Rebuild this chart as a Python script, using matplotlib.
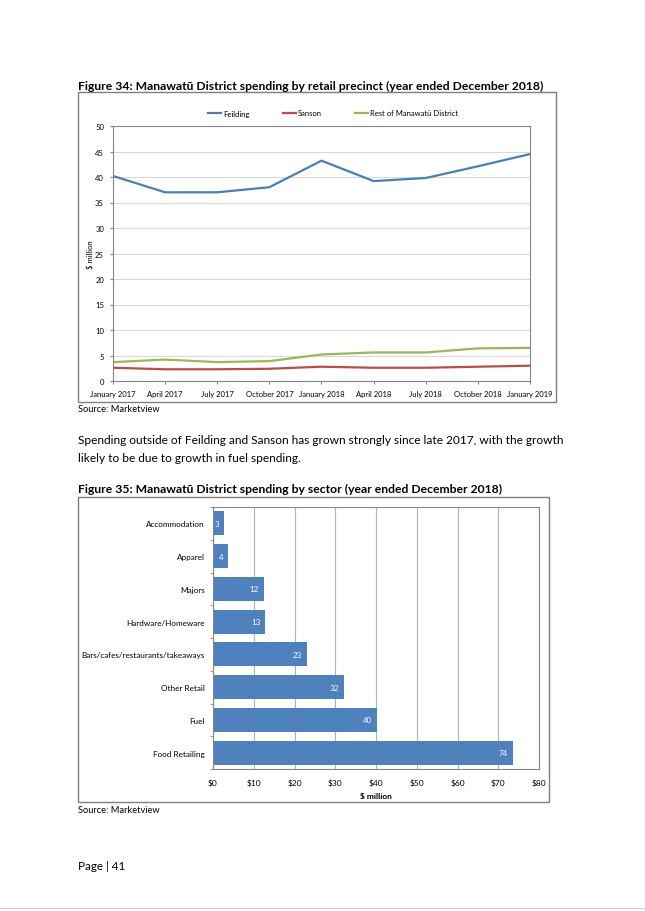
import numpy as np
import matplotlib.pyplot as plt
from matplotlib.patches import Rectangle
from matplotlib.lines import Line2D

plt.rcParams['font.family'] = ['Lato', 'DejaVu Sans']

# Figure 34 data ($ million)
quarters = ["January 2017", "April 2017", "July 2017", "October 2017", "January 2018",
            "April 2018", "July 2018", "October 2018", "January 2019"]
feilding = [40.2, 37.0, 37.0, 38.0, 43.2, 39.2, 39.8, 42.1, 44.5]
sanson = [2.6, 2.3, 2.3, 2.4, 2.8, 2.6, 2.6, 2.8, 3.0]
rest = [3.7, 4.2, 3.7, 3.9, 5.2, 5.6, 5.6, 6.4, 6.5]

# Figure 35 data ($ million)
sectors = ["Accommodation", "Apparel", "Majors", "Hardware/Homeware",
           "Bars/cafes/restaurants/takeaways", "Other Retail", "Fuel", "Food Retailing"]
spend = [2.7, 3.7, 12.4, 12.8, 23.0, 32.1, 40.2, 73.5]

W, H = 645, 912
fig = plt.figure(figsize=(W / 100, H / 100), dpi=100)

def box(l, t, r, b):
    # pixel box -> figure fraction
    return [l / W, 1 - b / H, (r - l) / W, (b - t) / H]

def fy(y):
    return 1 - y / H

def frame(l, t, r, b):
    fig.patches.append(Rectangle((l / W, 1 - b / H), (r - l) / W, (b - t) / H,
                                 transform=fig.transFigure, fill=False,
                                 edgecolor='#7f7f7f', lw=1.0))

edge = '#868686'
grid = '#d9d9d9'

# ---- Figure 34 ----
fig.text(78 / W, fy(86), "Figure 34: Manawatū District spending by retail precinct (year ended December 2018)",
         fontsize=8.7, fontweight='bold', va='center')
frame(78, 93, 556, 403)

ax1 = fig.add_axes(box(113, 127, 530, 382))
x = np.arange(len(quarters))
ax1.plot(x, feilding, color='#4a7ebb', lw=1.6, label='Feilding')
ax1.plot(x, sanson, color='#be4b48', lw=1.6, label='Sanson')
ax1.plot(x, rest, color='#98b954', lw=1.6, label='Rest of Manawatū District')
ax1.set_xlim(0, 8)
ax1.set_ylim(0, 50)
ax1.set_yticks(np.arange(0, 51, 5))
ax1.set_xticks(x)
ax1.set_xticklabels(quarters)
ax1.tick_params(labelsize=5.5, length=2.5, color=edge, pad=4)
ax1.grid(axis='y', color=grid, lw=0.8)
ax1.set_axisbelow(True)
for s in ax1.spines.values():
    s.set_color(edge)
    s.set_linewidth(0.8)
ax1.set_ylabel("$ million", fontsize=5.5, labelpad=1)
fig.legend(*ax1.get_legend_handles_labels(), loc='center', ncol=3, frameon=False,
           fontsize=5.5, bbox_to_anchor=(333 / W, fy(114)), handlelength=1.7,
           handletextpad=0.2, columnspacing=4.4)
fig.text(78 / W, fy(410), "Source: Marketview", fontsize=6.7, va='center')

# ---- body text ----
fig.text(78 / W, fy(441), "Spending outside of Feilding and Sanson has grown strongly since late 2017, with the growth",
         fontsize=8.6, va='center')
fig.text(78 / W, fy(459), "likely to be due to growth in fuel spending.", fontsize=8.6, va='center')

# ---- Figure 35 ----
fig.text(78 / W, fy(489), "Figure 35: Manawatū District spending by sector (year ended December 2018)",
         fontsize=8.7, fontweight='bold', va='center')
frame(78, 498, 549, 803)

ax2 = fig.add_axes(box(213, 508, 539, 770))
y = np.arange(len(sectors))
bars = ax2.barh(y, spend, height=0.74, color='#4f81bd')
for b, v in zip(bars, spend):
    ax2.text(b.get_width() - 1.1, b.get_y() + b.get_height() / 2, f"{v:.0f}",
             ha='right', va='center', color='white', fontsize=5.8)
ax2.set_ylim(len(sectors) - 0.5, -0.5)
ax2.set_xlim(0, 80)
ax2.set_xticks(np.arange(0, 81, 10))
ax2.set_xticklabels([f"${v}" for v in range(0, 81, 10)])
ax2.set_yticks(y)
ax2.set_yticklabels(sectors)
ax2.set_yticks(np.arange(-0.5, len(sectors), 1), minor=True)
ax2.tick_params(axis='y', which='major', length=0, pad=6, labelsize=5.9)
ax2.tick_params(axis='y', which='minor', length=2.5, color=edge)
ax2.tick_params(axis='x', length=0, labelsize=6, pad=7)
ax2.grid(axis='x', color='#b3b3b3', lw=0.8)
ax2.set_axisbelow(True)
for s in ax2.spines.values():
    s.set_color(edge)
    s.set_linewidth(0.8)
ax2.set_xlabel("$ million", fontsize=6, fontweight='bold', labelpad=4)
fig.text(78 / W, fy(811), "Source: Marketview", fontsize=6.7, va='center')

fig.text(78 / W, fy(867), "Page | 41", fontsize=8.4, va='center')
fig.lines.append(Line2D([0, 1], [fy(909), fy(909)], transform=fig.transFigure,
                        color='#d0d0d0', lw=0.8))

fig.savefig("out.png", dpi=100)
